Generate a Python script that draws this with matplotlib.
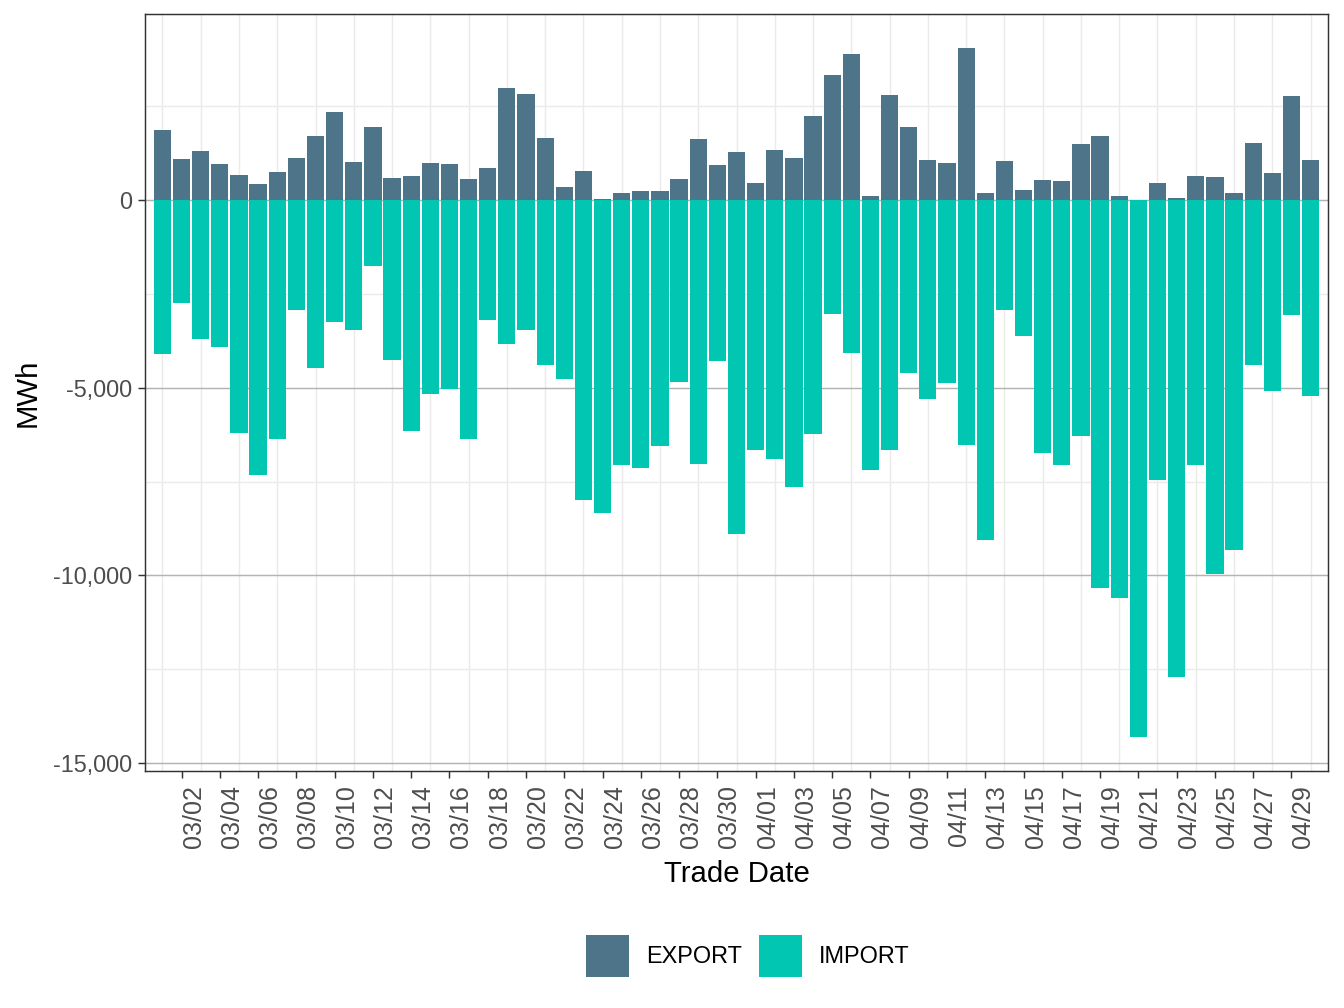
import matplotlib
matplotlib.use("Agg")
import matplotlib.pyplot as plt
import numpy as np
import pandas as pd

# ---- data ----
trade_dates = pd.date_range("2024-03-01", "2024-04-30", freq="D")
date_labels = [d.strftime("%m/%d") for d in trade_dates]

export_mwh = [1862, 1082, 1295, 949, 657, 418, 737, 1109, 1694, 2332,
              1003, 1933, 577, 630, 976, 949, 550, 843, 2970, 2811,
              1641, 338, 763, 20, 178, 231, 231, 550, 1614, 923,
              1269, 444, 1322, 1109, 2226, 3316, 3875, 100, 2785, 1933,
              1056, 976, 4035, 178, 1029, 258, 524, 497, 1481, 1694,
              100, 10, 444, 50, 630, 604, 178, 1508, 710, 2758,
              1056]
import_mwh = [-4096, -2747, -3705, -3910, -6197, -7314, -6356, -2926, -4468, -3245,
              -3457, -1755, -4255, -6144, -5160, -5027, -6356, -3191, -3830, -3457,
              -4388, -4761, -7979, -8324, -7048, -7128, -6543, -4840, -7021, -4282,
              -8883, -6649, -6888, -7633, -6223, -3032, -4069, -7181, -6649, -4601,
              -5293, -4871, -6518, -9049, -2921, -3616, -6727, -7050, -6280, -10323,
              -10590, -14291, -7450, -12693, -7050, -9952, -9315, -4386, -5100, -3054,
              -5214]
series_names = ["EXPORT", "IMPORT"]
series_colors = ["#4E7489", "#00C6B2"]

# ---- figure ----
plt.rcParams["font.family"] = ["Liberation Sans", "DejaVu Sans"]
fig = plt.figure(figsize=(7, 5.25), dpi=192)
ax = fig.add_axes([145/1344, 1-771/1008, (1328-145)/1344, (771-14)/1008])

x = np.arange(len(date_labels))
ax.set_xlim(-0.91, len(date_labels) - 1 + 0.91)
ax.set_ylim(-15207, 4951)

# gridlines
for v in x[::2]:
    ax.axvline(v, color="#EBEBEB", lw=0.55, zorder=0)
for v in [2500, -2500, -7500, -12500]:
    ax.axhline(v, color="#EBEBEB", lw=0.55, zorder=0)
for v in [0, -5000, -10000, -15000]:
    ax.axhline(v, color="#B3B3B3", lw=0.55, zorder=0.5)

ax.bar(x, export_mwh, width=0.9, color=series_colors[0], label=series_names[0], zorder=2)
ax.bar(x, import_mwh, width=0.9, color=series_colors[1], label=series_names[1], zorder=2)

# axes styling
for s in ax.spines.values():
    s.set_color("#333333")
    s.set_linewidth(0.55)

ax.set_yticks([0, -5000, -10000, -15000])
ax.set_yticklabels([f"{v:,}" for v in [0, -5000, -10000, -15000]])
ax.set_xticks(x[1::2])
ax.set_xticklabels(date_labels[1::2], rotation=90, ha="left", va="top")
ax.tick_params(axis="both", colors="#333333", labelcolor="#4D4D4D", labelsize=8.8,
               length=2.75, width=0.55, pad=2.2)
ax.tick_params(axis="x", labelsize=9.4, pad=2.5)

ax.set_xlabel("Trade Date", fontsize=11, color="black", labelpad=4.5)
ax.set_ylabel("MWh", fontsize=11, color="black", labelpad=4)

fig.legend(loc="center", bbox_to_anchor=(748/1344, 1-956/1008), ncol=2, frameon=False,
           fontsize=8.8, handlelength=1.83, handleheight=2.37, handletextpad=0.72,
           columnspacing=0.72, borderaxespad=0)

fig.savefig("out.png", dpi=192)
